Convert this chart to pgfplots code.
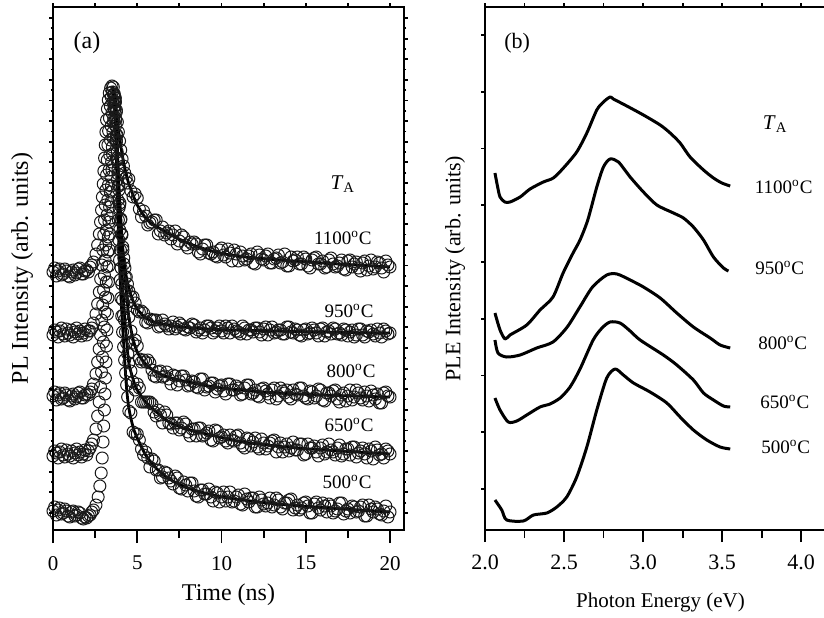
\documentclass[border=0pt]{standalone}
\usepackage{fontspec}
\setmainfont{Liberation Serif}
\usepackage{pgfplots}
\usepackage{pgfplotstable}
\pgfplotsset{compat=1.18}

% baseline before the pulse: t, 1100, 950, 800, 650, 500 (vertical offsets in plot units)
\pgfplotstableread[row sep=\\]{
t a b c d e\\
0 258 195 134 74 19\\
0.1 262 200 138 79 23\\
0.2 254 198 130 77 15\\
0.3 259 193 135 72 20\\
0.4 261 199 137 78 22\\
0.5 255 202 131 81 16\\
0.6 256 196 132 75 17\\
0.7 261 194 137 73 21\\
0.8 259 201 135 80 19\\
0.9 254 197 130 76 14\\
1.0 253 195 129 74 13\\
1.1 258 200 134 79 18\\
1.2 260 193 136 72 19\\
1.3 255 198 131 77 14\\
1.4 257 202 133 81 15\\
1.5 261 196 137 75 18\\
1.6 262 199 138 78 17\\
1.7 256 194 132 73 12\\
1.8 256 197 132 76 11\\
1.9 259 201 135 80 13\\
2.0 260 195 136 75 12\\
2.1 258 199 135 79 14\\
2.2 263 199 138 82 15\\
2.3 265 202 141 86 18\\
2.4 268 207 146 90 20\\
}\base

% decay tail
\pgfplotstableread[row sep=\\]{
t a b c d e\\
4.5 351 239 213 167 119\\
4.75 333 233 187 148 98\\
5 332 220 184 146 96\\
5.25 313 219 168 128 81\\
5.5 314 208 168 128 78\\
5.75 307 211 167 128 63\\
6 310 210 154 118 69\\
6.25 296 203 158 120 60\\
6.5 303 210 153 107 53\\
6.75 297 204 158 115 57\\
7 291 204 146 106 49\\
7.25 299 201 154 107 54\\
7.5 289 207 149 100 42\\
7.75 293 201 154 108 48\\
8 282 203 144 98 39\\
8.25 286 206 149 101 47\\
8.5 286 198 143 94 34\\
8.75 276 202 151 102 40\\
9 285 200 140 95 36\\
9.25 277 204 144 99 41\\
9.5 278 197 147 89 29\\
9.75 273 202 141 99 37\\
10 282 199 145 93 33\\
10.25 273 204 136 89 29\\
10.5 277 197 146 95 38\\
10.75 280 201 140 89 29\\
11 269 198 142 95 35\\
11.25 274 204 136 84 25\\
11.5 271 196 145 92 31\\
11.75 276 200 136 84 32\\
12 266 202 140 92 23\\
12.25 275 198 133 81 33\\
12.5 270 201 142 87 26\\
12.75 276 195 136 84 27\\
13 267 203 140 89 23\\
13.25 272 198 131 78 32\\
13.5 267 200 142 87 23\\
13.75 276 196 137 83 27\\
14 264 203 133 79 30\\
14.25 269 197 140 88 20\\
14.5 273 200 135 80 25\\
14.75 266 194 142 86 22\\
15 271 201 132 76 28\\
15.25 262 197 139 82 17\\
15.5 272 200 132 84 26\\
15.75 266 194 141 74 22\\
16 269 202 130 85 27\\
16.25 263 198 137 78 18\\
16.5 272 196 134 80 24\\
16.75 263 201 140 75 19\\
17 267 197 128 85 27\\
17.25 261 201 137 76 16\\
17.5 269 194 134 81 21\\
17.75 263 200 130 83 24\\
18 268 195 140 73 18\\
18.25 259 201 132 79 23\\
18.5 269 193 138 76 14\\
18.75 264 198 129 81 25\\
19 261 196 135 71 18\\
19.25 268 201 136 80 21\\
19.5 262 193 127 76 15\\
19.75 269 199 138 81 24\\
20 263 197 133 76 18\\
}\tail

% decay tail, intermediate samples
\pgfplotstableread[row sep=\\]{
t a b c d e\\
4.625 339 233 199 159 117\\
4.875 336 227 190 140 96\\
5.125 321 218 171 142 90\\
5.375 319 217 170 128 75\\
5.625 305 207 170 128 72\\
5.875 308 210 160 126 71\\
6.125 310 210 153 114 60\\
6.375 299 204 159 115 52\\
6.625 295 206 154 118 58\\
6.875 299 201 151 107 52\\
7.125 295 208 155 102 46\\
7.375 286 203 145 107 52\\
7.625 295 205 154 102 41\\
7.875 285 200 150 106 45\\
8.125 288 202 145 94 47\\
8.375 288 205 148 101 39\\
8.625 278 200 142 102 33\\
8.875 281 197 151 94 40\\
9.125 285 204 143 97 36\\
9.375 276 202 147 90 33\\
9.625 274 199 138 100 38\\
9.875 280 204 144 92 28\\
10.125 275 197 139 95 38\\
10.375 281 202 146 87 33\\
10.625 269 204 140 90 28\\
10.875 276 199 144 94 33\\
11.125 278 196 135 87 26\\
11.375 270 202 142 82 36\\
11.625 274 200 145 91 28\\
11.875 267 198 137 88 32\\
12.125 278 202 134 83 23\\
12.375 271 195 141 91 30\\
12.625 274 203 139 81 24\\
12.875 267 200 132 87 32\\
13.125 271 197 142 90 25\\
13.375 275 200 134 83 30\\
13.625 268 196 139 78 21\\
13.875 264 203 140 86 27\\
14.125 273 198 131 82 31\\
14.375 270 201 136 80 22\\
14.625 266 195 142 86 20\\
14.875 273 200 134 75 27\\
15.125 264 196 131 86 24\\
15.375 270 202 138 82 17\\
15.625 273 197 134 78 28\\
15.875 266 201 140 82 20\\
16.125 262 194 129 76 24\\
16.375 270 199 137 86 26\\
16.625 266 202 139 78 17\\
16.875 264 196 131 82 21\\
17.125 270 195 135 74 27\\
17.375 260 200 129 81 19\\
17.625 270 198 140 75 17\\
17.875 266 193 133 83 23\\
18.125 262 201 137 77 19\\
18.375 267 195 130 82 25\\
18.625 260 199 134 72 14\\
18.875 270 200 139 79 21\\
19.125 263 194 131 83 23\\
19.375 267 197 127 75 16\\
19.625 258 201 137 72 19\\
19.875 265 196 134 79 13\\
}\tailmid

\tikzset{lab/.style={font=\fontsize{9.5}{11}\selectfont, anchor=center}}

\begin{document}
\begin{tikzpicture}
\pgfplotsset{
  panel/.style={scale only axis, width=175.5pt, height=261.5pt, ymin=0, ymax=523,
    axis line style={line width=0.9pt, black}, tick style={line width=0.9pt, black},
    /pgf/number format/assume math mode=true, tick align=outside},
  circ/.style={only marks, mark=o, mark size=3pt, mark options={line width=0.5pt, draw=black!90}},
  fit/.style={no marks, line width=1.4pt, black, smooth, tension=0.5},
  ple/.style={no marks, line width=1.5pt, black, smooth, tension=0.45, line join=round},
}
% ---------------- panel (a) ----------------
\begin{axis}[panel, at={(26.5pt,43.5pt)}, anchor=south west,
  xmin=0, xmax=20.83, xtick={0,5,10,15,20}, minor xtick={2.5,7.5,12.5,17.5},
  xtick pos=left, ytick=\empty, major tick length=6.5pt, minor tick length=4pt,
  xticklabel style={font=\fontsize{10.5}{12}\selectfont, yshift=-3pt},
  xlabel={Time (ns)},
  xlabel style={font=\fontsize{12}{14}\selectfont, at={(axis description cs:0.5,-0.124)}, anchor=center},
  ylabel={PL Intensity (arb. units)},
  ylabel style={font=\fontsize{12}{14}\selectfont, at={(axis description cs:-0.088,0.5)}, anchor=center}]
% 1100
\addplot[circ] table[x=t,y=a]{\base};
\addplot[circ] coordinates {(2.55,276) (2.65,285) (2.75,296) (2.82,308) (2.88,320) (2.93,333) (2.98,346) (3.02,359) (3.06,372) (3.1,385) (3.14,398) (3.18,410) (3.23,421) (3.28,430) (3.34,437) (3.42,442) (3.5,444) (3.58,443) (3.64,436) (3.7,428) (3.76,418) (3.82,408) (3.88,398) (3.95,389) (4.02,380) (4.1,371) (4.18,364) (4.26,357) (4.34,352) (4.42,347)};
\addplot[circ] table[x=t,y=a]{\tail};
\addplot[circ] table[x=t,y=a]{\tailmid};
% 950
\addplot[circ] table[x=t,y=b]{\base};
\addplot[circ] coordinates {(2.55,216) (2.65,226) (2.75,238) (2.83,251) (2.9,265) (2.96,280) (3.01,295) (3.06,310) (3.1,325) (3.14,340) (3.18,355) (3.22,370) (3.26,385) (3.3,399) (3.35,412) (3.4,424) (3.46,433) (3.52,438) (3.6,436) (3.66,420) (3.71,404) (3.76,388) (3.81,372) (3.86,356) (3.91,340) (3.96,325) (4.02,310) (4.08,296) (4.14,283) (4.2,272) (4.27,262) (4.35,253) (4.42,246)};
\addplot[circ] table[x=t,y=b]{\tail};
\addplot[circ] table[x=t,y=b]{\tailmid};
% 800
\addplot[circ] table[x=t,y=c]{\base};
\addplot[circ] coordinates {(2.55,156) (2.65,168) (2.74,181) (2.82,195) (2.89,210) (2.95,225) (3.0,240) (3.05,255) (3.09,270) (3.13,285) (3.17,300) (3.21,315) (3.25,330) (3.29,345) (3.33,360) (3.37,375) (3.41,390) (3.45,404) (3.5,417) (3.55,428) (3.6,435) (3.66,428) (3.71,412) (3.76,395) (3.81,378) (3.86,361) (3.91,344) (3.97,327) (4.03,311) (4.09,295) (4.15,280) (4.21,266) (4.28,253) (4.35,240) (4.42,228)};
\addplot[circ] table[x=t,y=c]{\tail};
\addplot[circ] table[x=t,y=c]{\tailmid};
% 650
\addplot[circ] table[x=t,y=d]{\base};
\addplot[circ] coordinates {(2.55,101) (2.65,114) (2.74,128) (2.82,143) (2.88,158) (2.94,173) (2.99,188) (3.04,203) (3.08,218) (3.12,233) (3.16,248) (3.2,263) (3.24,278) (3.28,293) (3.32,308) (3.36,323) (3.4,338) (3.44,353) (3.48,368) (3.52,383) (3.56,398) (3.6,412) (3.65,424) (3.7,432) (3.76,420) (3.8,395) (3.84,370) (3.88,345) (3.92,322) (3.96,300) (4.0,280) (4.04,262) (4.08,246) (4.13,230) (4.18,215) (4.24,210) (4.3,198) (4.37,187) (4.44,176)};
\addplot[circ] table[x=t,y=d]{\tail};
\addplot[circ] table[x=t,y=d]{\tailmid};
% 500
\addplot[circ] table[x=t,y=e]{\base};
\addplot[circ] coordinates {(2.55,25) (2.68,33) (2.78,44) (2.86,57) (2.92,72) (2.97,88) (3.01,104) (3.05,120) (3.08,136) (3.11,152) (3.14,168) (3.17,184) (3.2,200) (3.23,216) (3.26,232) (3.29,248) (3.32,264) (3.35,280) (3.38,296) (3.41,312) (3.44,328) (3.47,344) (3.5,360) (3.53,376) (3.56,392) (3.59,408) (3.62,422) (3.66,432) (3.7,428) (3.73,410) (3.76,390) (3.79,370) (3.82,350) (3.85,330) (3.88,310) (3.91,290) (3.95,270) (3.99,250) (4.03,232) (4.08,214) (4.13,198) (4.19,183) (4.25,170) (4.31,157) (4.37,145) (4.43,133)};
\addplot[circ] table[x=t,y=e]{\tail};
\addplot[circ] table[x=t,y=e]{\tailmid};
% fits
\addplot[fit] coordinates {(3.52,444) (3.62,438) (3.7,428) (3.85,405) (4.0,386) (4.2,367) (4.45,349) (4.75,335) (5,325) (5.5,312) (6,305) (6.5,300) (7,295) (8,287) (9,281) (10,276.5) (11,274) (12,272) (14,269.4) (16,267) (18,265) (20,263)};
\addplot[fit] coordinates {(3.55,440) (3.65,422) (3.75,392) (3.85,360) (3.95,328) (4.05,300) (4.15,278) (4.3,258) (4.5,242) (4.75,229) (5,221) (5.25,216) (5.5,212) (6,208) (6.5,206) (7,204.5) (8,202.5) (9,201.2) (10,200.3) (12,199.5) (14,198.7) (16,198) (18,197.3) (20,197)};
\addplot[fit] coordinates {(3.6,437) (3.7,415) (3.8,382) (3.9,348) (4.0,318) (4.1,292) (4.2,268) (4.35,240) (4.5,213) (4.75,191) (5,178) (5.25,171) (5.5,166) (6,159) (6.5,155) (7,152) (8,148) (9,144.6) (10,142.2) (11,140.2) (12,138.6) (14,136.4) (16,135) (18,133.9) (20,133)};
\addplot[fit] coordinates {(3.7,434) (3.8,395) (3.9,340) (4.0,290) (4.1,255) (4.2,226) (4.3,203) (4.4,184) (4.5,167) (4.75,151) (5,140) (5.5,128) (6,120) (6.5,113) (7,107) (8,100.5) (9,96.5) (10,92.5) (11,88.8) (12,86.4) (13,84.4) (14,82.7) (16,80.1) (18,78.1) (20,76)};
\addplot[fit] coordinates {(3.66,434) (3.72,400) (3.8,345) (3.88,300) (3.96,262) (4.05,228) (4.15,198) (4.25,172) (4.35,145) (4.5,122) (4.75,103) (5,92) (5.5,75) (6,64) (6.5,56) (7,50) (8,42) (9,37) (10,33.2) (11,30.6) (12,28.5) (13,26.6) (14,25) (16,22.4) (18,20.2) (20,18)};
% labels
\node[font=\fontsize{12}{14}\selectfont] at (axis cs:2.02,487) {(a)};
\node[font=\fontsize{10.5}{12}\selectfont] at (axis cs:17.2,346) {\textit{T}\textsubscript{A}};
\node[lab] at (axis cs:17.2,292) {1100\textsuperscript{o}C};
\node[lab] at (axis cs:17.57,219) {950\textsuperscript{o}C};
\node[lab] at (axis cs:17.69,159) {800\textsuperscript{o}C};
\node[lab] at (axis cs:17.57,105) {650\textsuperscript{o}C};
\node[lab] at (axis cs:17.45,48) {500\textsuperscript{o}C};
\end{axis}
% short top/left/right ticks of panel (a)
\begin{axis}[panel, at={(26.5pt,43.5pt)}, anchor=south west,
  xmin=0, xmax=20.83, xtick={0,2.5,...,20}, xtick pos=right,
  ytick={17,37.625,...,513}, minor y tick num=1, ytick pos=both,
  major tick length=1.8pt, minor tick length=1.2pt,
  xticklabels={}, yticklabels={}]
\end{axis}
% ---------------- panel (b) ----------------
\begin{axis}[panel, at={(242.5pt,43.5pt)}, anchor=south west,
  xmin=2, xmax=4.22, xtick={2,2.5,3,3.5,4}, xticklabels={2.0,2.5,3.0,3.5,4.0},
  minor xtick={2.25,2.75,3.25,3.75},
  xtick pos=left, ytick=\empty, major tick length=6pt, minor tick length=4pt,
  xticklabel style={font=\fontsize{11}{13}\selectfont, yshift=-3pt},
  xlabel={Photon Energy (eV)},
  xlabel style={font=\fontsize{10.5}{12}\selectfont, at={(axis description cs:0.5,-0.138)}, anchor=center},
  ylabel={PLE Intensity (arb. units)},
  ylabel style={font=\fontsize{11}{13}\selectfont, at={(axis description cs:-0.0855,0.5)}, anchor=center}]
\addplot[ple] coordinates {(2.063,357) (2.08,343) (2.095,333) (2.125,328) (2.158,328) (2.222,333) (2.285,341) (2.369,348) (2.432,352) (2.496,362) (2.580,378) (2.644,397) (2.707,420) (2.749,428) (2.791,433) (2.812,431) (2.897,424) (3.002,415) (3.108,405) (3.171,397) (3.234,387) (3.297,373) (3.382,360) (3.445,352) (3.498,347) (3.551,344)};
\addplot[ple] coordinates {(2.063,217) (2.095,200) (2.127,191) (2.158,195) (2.264,205) (2.348,220) (2.43,233) (2.494,257) (2.557,277) (2.601,290) (2.65,310) (2.707,343) (2.749,363) (2.791,371) (2.844,368) (2.918,353) (3.002,338) (3.087,325) (3.192,317) (3.255,312) (3.318,303) (3.382,290) (3.445,273) (3.508,262) (3.540,259)};
\addplot[ple] coordinates {(2.063,190) (2.082,177) (2.137,173) (2.222,175) (2.327,182) (2.43,188) (2.52,203) (2.60,223) (2.68,243) (2.77,255) (2.835,256) (2.918,250) (3.002,243) (3.108,232) (3.213,217) (3.318,203) (3.424,192) (3.487,185) (3.551,182)};
\addplot[ple] coordinates {(2.063,132) (2.095,120) (2.147,108) (2.201,109) (2.264,115) (2.348,123) (2.411,126) (2.475,132) (2.538,143) (2.601,161) (2.684,190) (2.74,202) (2.791,208) (2.854,207) (2.918,199) (2.981,190) (3.128,175) (3.213,165) (3.318,150) (3.382,137) (3.445,130) (3.508,124) (3.551,123)};
\addplot[ple] coordinates {(2.063,30) (2.106,20) (2.137,10) (2.242,9) (2.306,15) (2.391,17) (2.454,23) (2.517,33) (2.580,53) (2.644,83) (2.707,120) (2.770,152) (2.823,161) (2.875,155) (2.939,147) (3.044,138) (3.150,127) (3.234,113) (3.318,100) (3.403,90) (3.487,83) (3.551,81)};
\node[font=\fontsize{11}{13}\selectfont] at (axis cs:2.203,487) {(b)};
\node[font=\fontsize{10.5}{12}\selectfont] at (axis cs:3.835,406) {\textit{T}\textsubscript{A}};
\node[lab] at (axis cs:3.889,343) {1100\textsuperscript{o}C};
\node[lab] at (axis cs:3.864,262) {950\textsuperscript{o}C};
\node[lab] at (axis cs:3.883,187) {800\textsuperscript{o}C};
\node[lab] at (axis cs:3.896,128) {650\textsuperscript{o}C};
\node[lab] at (axis cs:3.902,83) {500\textsuperscript{o}C};
\end{axis}
\begin{axis}[panel, at={(242.5pt,43.5pt)}, anchor=south west,
  xmin=2, xmax=4.22, xtick={2,2.25,...,4.2}, xtick pos=right,
  ytick={41,97.75,...,496}, ytick pos=left,
  major tick length=1.8pt, minor tick length=1.2pt,
  xticklabels={}, yticklabels={}]
\end{axis}
\pgfresetboundingbox
\path[use as bounding box] (0,0) rectangle (412pt,308.5pt);
\end{tikzpicture}
\end{document}
